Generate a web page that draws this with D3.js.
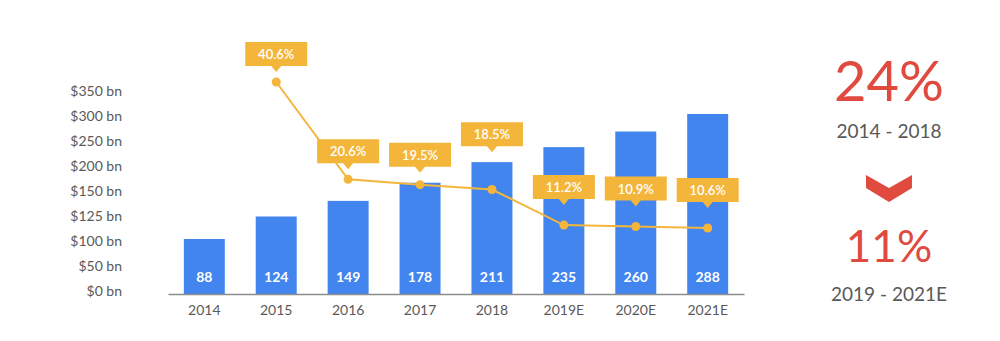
<!DOCTYPE html>
<html><head><meta charset="utf-8">
<script src="https://cdn.jsdelivr.net/npm/d3@7/dist/d3.min.js"></script>
<style>body{margin:0;background:#fff;}svg{display:block;font-family:Lato,"Open Sans",sans-serif;}</style>
</head><body><svg id="c" width="1000" height="341"></svg>
<script>
const categories = ["2014","2015","2016","2017","2018","2019E","2020E","2021E"];
const revenue = [88,124,149,178,211,235,260,288];
const growthCats = ["2015","2016","2017","2018","2019E","2020E","2021E"];
const growth = [40.6,20.6,19.5,18.5,11.2,10.9,10.6];
const yTickLabels = ["$0 bn","$50 bn","$100 bn","$125 bn","$150 bn","$200 bn","$250 bn","$300 bn","$350 bn"];
const summaryTop = ["24%","2014 - 2018"];
const summaryBottom = ["11%","2019 - 2021E"];

const svg = d3.select("#c");
const blue = "#4285EE", orange = "#F4B63A", red = "#E04A3F", grey = "#595959";
const x = d3.scaleBand().domain(categories).range([168,744]).paddingInner(0.43).paddingOuter(0.22);
const y = d3.scaleLinear().domain([0,288]).range([294,114]);
const yLab = d3.scalePoint().domain(yTickLabels).range([291,91]);
const g = d3.scaleLinear().domain([10.6,40.6]).range([228,82]);

// y axis labels (decorative)
const ya = svg.append("g").attr("transform","translate(122,0)")
  .call(d3.axisLeft(yLab).tickSize(0).tickPadding(0));
ya.select(".domain").remove();
ya.selectAll("text").attr("fill",grey).attr("font-size",14).attr("font-family","Lato,'Open Sans',sans-serif");

// bars
svg.selectAll("rect.bar").data(categories).join("rect").attr("class","bar")
  .attr("x",d=>x(d)).attr("width",x.bandwidth())
  .attr("y",(d,i)=>y(revenue[i])).attr("height",(d,i)=>y(0)-y(revenue[i]))
  .attr("fill",blue);
svg.selectAll("text.val").data(categories).join("text").attr("class","val")
  .attr("x",d=>x(d)+x.bandwidth()/2).attr("y",282).attr("text-anchor","middle")
  .attr("fill","#fff").attr("font-size",14).attr("font-weight",700)
  .text((d,i)=>revenue[i]);

// x axis
const xa = svg.append("g").attr("transform","translate(0,294)")
  .call(d3.axisBottom(x).tickSize(0).tickPadding(11));
xa.select(".domain").attr("stroke","#8c8c8c").attr("stroke-width",1.5);
xa.selectAll("text").attr("fill",grey).attr("font-size",14).attr("font-family","Lato,'Open Sans',sans-serif");

// growth line
const cx = d => x(d)+x.bandwidth()/2;
const pts = growthCats.map((c,i)=>[cx(c), g(growth[i])]);
svg.append("path").attr("d",d3.line()(pts)).attr("fill","none").attr("stroke",orange).attr("stroke-width",2);
svg.selectAll("circle.pt").data(pts).join("circle").attr("class","pt")
  .attr("cx",d=>d[0]).attr("cy",d=>d[1]).attr("r",4.5).attr("fill",orange);

// callouts
growthCats.forEach((c,i)=>{
  const px = pts[i][0], py = pts[i][1];
  const est = c.endsWith("E");
  const barTop = y(revenue[categories.indexOf(c)]);
  const tip = est ? py-20 : Math.min(py, barTop) - 10;
  const bh = 24, bw = 62, th = 6;
  const top = tip - th - bh;
  const cg = svg.append("g");
  cg.append("path").attr("fill",orange)
    .attr("d",`M${px-bw/2},${top}h${bw}v${bh}h${-bw/2+5}l-5,${th}l-5,${-th}h${-bw/2+5}z`);
  cg.append("text").attr("x",px).attr("y",top+bh/2+5).attr("text-anchor","middle")
    .attr("fill","#fff").attr("font-size",13).attr("font-weight",600).text(growth[i].toFixed(1)+"%");
});

// right summary
const rx = 889;
svg.append("text").attr("x",rx).attr("y",101).attr("text-anchor","middle").attr("fill",red)
  .attr("font-size",56).text(summaryTop[0]);
svg.append("text").attr("x",rx).attr("y",138).attr("text-anchor","middle").attr("fill",grey)
  .attr("font-size",19).text(summaryTop[1]);
svg.append("path").attr("fill",red)
  .attr("d",`M${rx-23},175 L${rx},188 L${rx+23},175 L${rx+23},188 L${rx},202 L${rx-23},188 Z`);
svg.append("text").attr("x",rx).attr("y",262).attr("text-anchor","middle").attr("fill",red)
  .attr("font-size",44).text(summaryBottom[0]);
svg.append("text").attr("x",rx).attr("y",301).attr("text-anchor","middle").attr("fill",grey)
  .attr("font-size",19).text(summaryBottom[1]);
</script></body></html>
